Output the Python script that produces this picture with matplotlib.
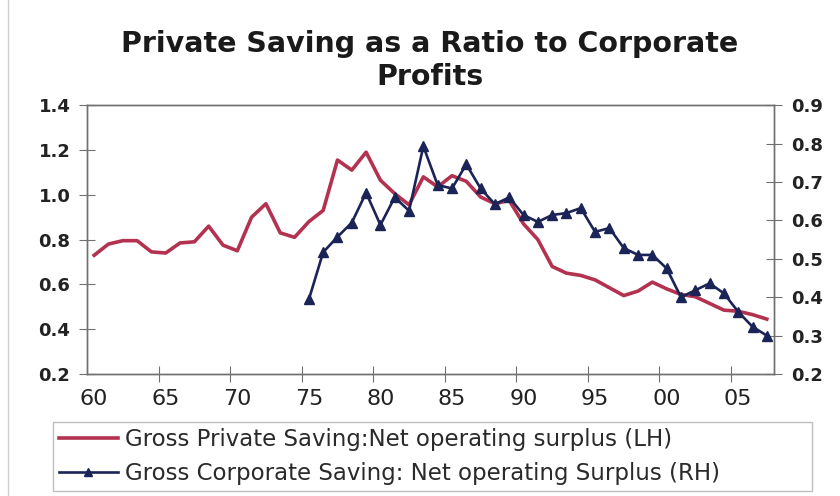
import matplotlib
matplotlib.use('Agg')
import matplotlib.pyplot as plt
from matplotlib.lines import Line2D
import numpy as np

# Annual ratios, 1960-2007
years = list(range(1960, 2008))

private_saving = [
    0.73, 0.78, 0.795, 0.795, 0.745, 0.74, 0.785, 0.79, 0.86, 0.775,
    0.75, 0.90, 0.96, 0.83, 0.81, 0.88, 0.93, 1.155, 1.11, 1.19,
    1.065, 1.005, 0.955, 1.08, 1.035, 1.085, 1.06, 0.99, 0.96, 0.975,
    0.87, 0.80, 0.68, 0.65, 0.64, 0.62, 0.585, 0.55, 0.57, 0.61,
    0.58, 0.555, 0.545, 0.515, 0.485, 0.48, 0.465, 0.445,
]

corp_years = list(range(1975, 2008))
corporate_saving = [
    0.394, 0.517, 0.557, 0.594, 0.672, 0.588, 0.66, 0.625, 0.793, 0.692,
    0.683, 0.746, 0.683, 0.642, 0.66, 0.614, 0.596, 0.614, 0.619, 0.632,
    0.570, 0.58, 0.528, 0.51, 0.51, 0.475, 0.40, 0.418, 0.436, 0.41,
    0.362, 0.323, 0.30,
]

left_ticks = [0.2, 0.4, 0.6, 0.8, 1.0, 1.2, 1.4]
right_ticks = [0.2, 0.3, 0.4, 0.5, 0.6, 0.7, 0.8, 0.9]
label_years = list(range(1960, 2010, 5))
year_labels = ['60', '65', '70', '75', '80', '85', '90', '95', '00', '05']

red = '#b3324f'
navy = '#1b2456'
axis_grey = '#707070'

fig = plt.figure(figsize=(8.4, 4.96), dpi=100)
ax = fig.add_axes([0.1036, 0.246, 0.8178, 0.542])
ax2 = ax.twinx()

ax.plot(years, private_saving, color=red, lw=2.6, solid_joinstyle='round')
ax2.plot(corp_years, corporate_saving, color=navy, lw=1.9, marker='^', ms=7,
         mfc=navy, mec=navy)

ax.set_xlim(1959.5, 2007.5)
ax.set_ylim(0.2, 1.4)
ax2.set_ylim(0.2, 0.9)

ax.set_yticks(left_ticks)
ax.set_yticklabels([f'{v:.1f}' for v in left_ticks])
ax2.set_yticks(right_ticks)
ax2.set_yticklabels([f'{v:.1f}' for v in right_ticks])

# year labels sit in the middle of each 5-year block, tick marks on the block edges
ax.set_xticks(label_years)
ax.set_xticklabels(year_labels)
ax.set_xticks([y + 4.5 for y in label_years[:-1]], minor=True)
ax.tick_params(axis='x', which='major', length=0, pad=11, labelsize=16,
               labelcolor='#222222')
ax.tick_params(axis='x', which='minor', direction='inout', length=12,
               width=0.8, color=axis_grey)
ax.tick_params(axis='y', direction='inout', length=12, width=0.8,
               color=axis_grey, pad=6, labelsize=13, labelcolor='#222222')
ax2.tick_params(axis='y', direction='inout', length=12, width=0.8,
                color=axis_grey, pad=6, labelsize=13, labelcolor='#222222')
for lab in ax.get_yticklabels() + ax2.get_yticklabels():
    lab.set_fontweight('bold')

for a in (ax, ax2):
    for s in a.spines.values():
        s.set_color(axis_grey)
        s.set_linewidth(1.0)

fig.text(0.512, 0.878, 'Private Saving as a Ratio to Corporate\nProfits',
         ha='center', va='center', fontsize=20.5, fontweight='bold',
         color='#1a1a1a', linespacing=1.2)

handles = [
    Line2D([], [], color=red, lw=2.6),
    Line2D([], [], color=navy, lw=1.9, marker='^', ms=6, mfc=navy),
]
labels = [
    'Gross Private Saving:Net operating surplus (LH)',
    'Gross Corporate Saving: Net operating Surplus (RH)',
]
# legend frame stretched across the width of the chart
leg = fig.legend(handles, labels, loc='upper left', mode='expand',
                 bbox_to_anchor=(0.063, 0.012, 0.904, 0.137),
                 bbox_transform=fig.transFigure,
                 fontsize=16.5, frameon=True, fancybox=False, handlelength=2.6,
                 handletextpad=0.3, borderpad=0.25, labelspacing=0.5,
                 borderaxespad=0)
leg.get_frame().set_edgecolor('#b0b0b0')
leg.get_frame().set_linewidth(1.0)
for t in leg.get_texts():
    t.set_color('#2a2a2a')

# faint outer frame edge on the left
fig.add_artist(Line2D([0.01, 0.01], [0.0, 1.0], color='#d0d0d0', lw=1.0))

fig.savefig('out.png', dpi=100)
